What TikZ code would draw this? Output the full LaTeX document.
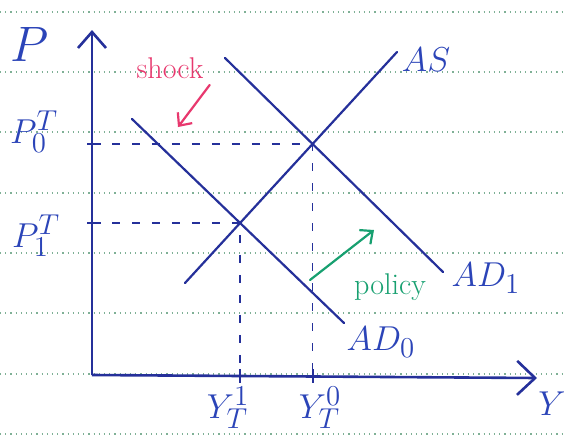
\documentclass[tikz,border=0pt]{standalone}
\usepackage{tikz}
\usetikzlibrary{arrows.meta,intersections}
\definecolor{ink}{HTML}{25309A}
\definecolor{inklabel}{HTML}{2B44B8}
\definecolor{shockred}{HTML}{E8386E}
\definecolor{policygreen}{HTML}{17A070}
\definecolor{ruling}{HTML}{7FB096}

\begin{document}
\begin{tikzpicture}[x=0.5pt,y=-0.5pt,
  ruled/.style={draw=ruling,line width=0.6pt,dotted},
  axis/.style={draw=ink,line width=1.3pt},
  curve/.style={draw=ink,line width=1.1pt,line cap=round},
  guide/.style={draw=ink,line width=0.8pt,dash pattern=on 4pt off 6pt},
  lab/.style={text=inklabel,inner sep=0pt,font=\fontsize{19}{21}\selectfont},
  note/.style={inner sep=0pt,font=\fontsize{15}{17}\selectfont},
  hand/.style={-{Straight Barb[length=5pt,width=9pt]},line width=1.1pt,line cap=round}
]
\useasboundingbox (0,0) rectangle (564,441);
\fill[white] (0,0) rectangle (564,441);
\foreach \y in {12,72,132,193,253,313,374,434}
  \draw[ruled] (0,\y) -- (564,\y);

% axes
\coordinate (O) at (92,375);
\coordinate (ptop) at (92,30);
\coordinate (yend) at (537,378);
\draw[axis,-{Straight Barb[length=8pt,width=14pt]}] (O) -- (ptop);
\draw[axis,-{Straight Barb[length=9pt,width=17pt]}] (O) -- (yend);

% AS and AD curves
\draw[curve,name path=as] (185,283) coordinate (as0) -- (397,52) coordinate (as1);
\draw[curve,name path=adzero] (132,119) coordinate (adzero0) -- (344,323) coordinate (adzero1);
\draw[curve,name path=adone] (225,58) coordinate (adone0) -- (443,272) coordinate (adone1);
\path[name intersections={of=as and adone,by=E0}];
\path[name intersections={of=as and adzero,by=E1}];

% equilibria
\draw[guide] (E0 -| O) -- (E0) -- (E0 |- O);
\draw[guide] (E1 -| O) -- (E1) -- (E1 |- O);
\draw[axis,line width=1pt] (E0 -| O) ++(-5,0) -- ++(14,0);
\draw[axis,line width=1pt] (E1 -| O) ++(-5,0) -- ++(14,0);
\draw[axis,line width=1pt] (E0 |- O) ++(0,-6) -- ++(0,14);
\draw[axis,line width=1pt] (E1 |- O) ++(0,-6) -- ++(0,14);

% labels
\node[lab,font=\fontsize{23}{25}\selectfont] (plabel) at (30,44) {$P$};
\node[lab] (pzero) at (34,132) {$P_0^T$};
\node[lab] (pone) at (36,236) {$P_1^T$};
\node[lab] (yone) at (228,408) {$Y_T^1$};
\node[lab] (yzero) at (320,408) {$Y_T^0$};
\node[lab] (ylabel) at (552,404) {$Y$};
\node[lab] (aslabel) at (426,60) {$AS$};
\node[lab] (adonelabel) at (486,278) {$AD_1$};
\node[lab] (adzerolabel) at (381,342) {$AD_0$};

% shock and policy
\node[note,text=shockred] (shock) at (170,68) {shock};
\coordinate (shocktip) at (178,127);
\draw[hand,draw=shockred] (shock.south east) ++(6,6) -- (shocktip);
\node[note,text=policygreen] (policy) at (390,287) {policy};
\coordinate (polstart) at (310,280);
\coordinate (poltip) at (374,230);
\draw[hand,draw=policygreen] (polstart) -- (poltip);
\end{tikzpicture}
\end{document}
